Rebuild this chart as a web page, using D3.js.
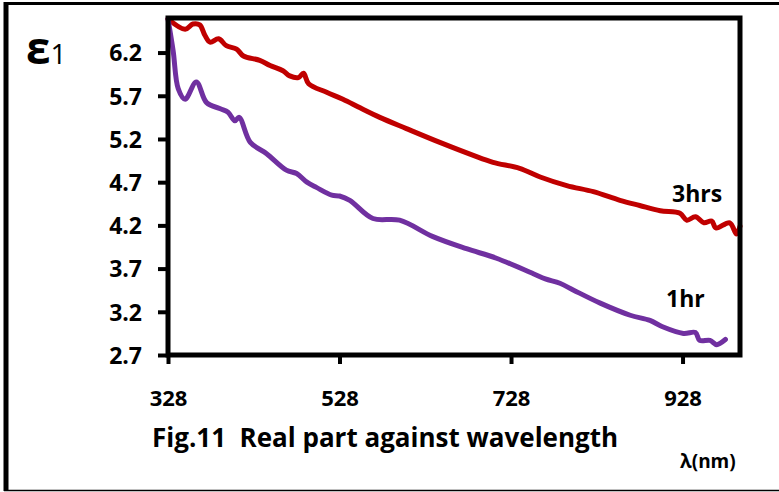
<!DOCTYPE html>
<html>
<head>
<meta charset="utf-8">
<script src="https://cdn.jsdelivr.net/npm/d3@7"></script>
<style>
  body { margin: 0; background: #fff; }
  text { font-family: "Open Sans", Lato, sans-serif; font-weight: bold; fill: #000; }
</style>
</head>
<body>
<div id="chart"></div>
<script>
// wavelength (nm) and real part of dielectric constant
var lambda3hrs = [328, 348, 357, 365, 371, 377, 387, 396, 408, 416, 435, 447, 462, 470, 480, 486, 492, 513, 532, 552,
    575, 606, 645, 684, 707, 738, 762, 793, 824, 855, 878, 902, 925, 933, 943, 953, 962, 967, 983, 991, 995];
var eps3hrs = [6.59, 6.47, 6.53, 6.52, 6.40, 6.32, 6.36, 6.28, 6.24, 6.16, 6.11, 6.05, 5.99, 5.93, 5.91, 5.96, 5.84, 5.74, 5.66, 5.56,
    5.45, 5.32, 5.16, 5.01, 4.93, 4.86, 4.76, 4.66, 4.59, 4.49, 4.43, 4.37, 4.34, 4.26, 4.30, 4.23, 4.25, 4.17, 4.23, 4.10, 4.19];

var lambda1hr = [328, 334, 340, 348, 361, 373, 389, 398, 406, 411, 424, 443, 466, 478, 490, 501, 519, 528, 540, 567,
    598, 637, 676, 711, 754, 768, 785, 801, 832, 867, 890, 904, 929, 943, 948, 960, 968, 978];
var eps1hr = [6.59, 6.22, 5.78, 5.66, 5.86, 5.62, 5.55, 5.51, 5.41, 5.45, 5.16, 5.03, 4.84, 4.80, 4.70, 4.64, 4.55, 4.54, 4.49, 4.28,
    4.26, 4.07, 3.93, 3.82, 3.64, 3.58, 3.53, 3.45, 3.30, 3.16, 3.10, 3.03, 2.95, 2.96, 2.87, 2.87, 2.82, 2.88];

var xTicks = [328, 528, 728, 928];
var yTicks = [2.7, 3.2, 3.7, 4.2, 4.7, 5.2, 5.7, 6.2];

var width = 779, height = 492;
var plot = { left: 168, top: 18, right: 740, bottom: 355 };

var svg = d3.select("#chart").append("svg")
    .attr("width", width)
    .attr("height", height);

// outer frame
svg.append("line").attr("x1", 6).attr("y1", 2).attr("x2", 6).attr("y2", 491)
    .attr("stroke", "#000").attr("stroke-width", 5);
svg.append("line").attr("x1", 4).attr("y1", 3.5).attr("x2", width).attr("y2", 3.5)
    .attr("stroke", "#000").attr("stroke-width", 3);
svg.append("line").attr("x1", 4).attr("y1", 490.5).attr("x2", width).attr("y2", 490.5)
    .attr("stroke", "#000").attr("stroke-width", 1.5);

var x = d3.scaleLinear().domain([328, 995]).range([plot.left, plot.right]);
var y = d3.scaleLinear().domain([2.7, 6.6]).range([plot.bottom, plot.top]);

var yAxis = svg.append("g")
    .attr("transform", "translate(" + plot.left + ",0)")
    .call(d3.axisLeft(y).tickValues(yTicks).tickFormat(d3.format(".1f")).tickSize(10).tickPadding(16));
yAxis.select(".domain").remove();
yAxis.selectAll(".tick line").attr("stroke", "#000").attr("stroke-width", 4);
yAxis.selectAll(".tick text").style("font-size", "23px").attr("dy", "0.36em");

var xAxis = svg.append("g")
    .attr("transform", "translate(0," + plot.bottom + ")")
    .call(d3.axisBottom(x).tickValues(xTicks).tickFormat(d3.format("d")).tickSize(9).tickPadding(26));
xAxis.select(".domain").remove();
xAxis.selectAll(".tick line").attr("stroke", "#000").attr("stroke-width", 4);
xAxis.selectAll(".tick text").style("font-size", "22px");

// series
var line = d3.line()
    .curve(d3.curveCatmullRom.alpha(0.5))
    .x(function (d) { return x(d[0]); })
    .y(function (d) { return y(d[1]); });

svg.append("path")
    .datum(d3.zip(lambda3hrs, eps3hrs))
    .attr("d", line)
    .attr("fill", "none")
    .attr("stroke", "#C00000")
    .attr("stroke-width", 5)
    .attr("stroke-linejoin", "round")
    .attr("stroke-linecap", "round");

svg.append("path")
    .datum(d3.zip(lambda1hr, eps1hr))
    .attr("d", line)
    .attr("fill", "none")
    .attr("stroke", "#7030A0")
    .attr("stroke-width", 5)
    .attr("stroke-linejoin", "round")
    .attr("stroke-linecap", "round");

// plot box
svg.append("rect")
    .attr("x", plot.left).attr("y", plot.top)
    .attr("width", plot.right - plot.left).attr("height", plot.bottom - plot.top)
    .attr("fill", "none").attr("stroke", "#000").attr("stroke-width", 5);

// labels
svg.append("text").attr("x", 672).attr("y", 202).style("font-size", "23px").text("3hrs");
svg.append("text").attr("x", 666).attr("y", 307).style("font-size", "23px").text("1hr");

var eps = svg.append("text").attr("x", 26).attr("y", 64);
eps.append("tspan").style("font-size", "44px").text("ε");
eps.append("tspan").style("font-size", "28px").style("font-weight", "normal").text("1");

svg.append("text").attr("x", 152).attr("y", 447).style("font-size", "26px")
    .style("white-space", "pre")
    .text("Fig.11  Real part against wavelength");

svg.append("text").attr("x", 680).attr("y", 468).style("font-size", "19px")
    .text("λ(nm)");
</script>
</body>
</html>
